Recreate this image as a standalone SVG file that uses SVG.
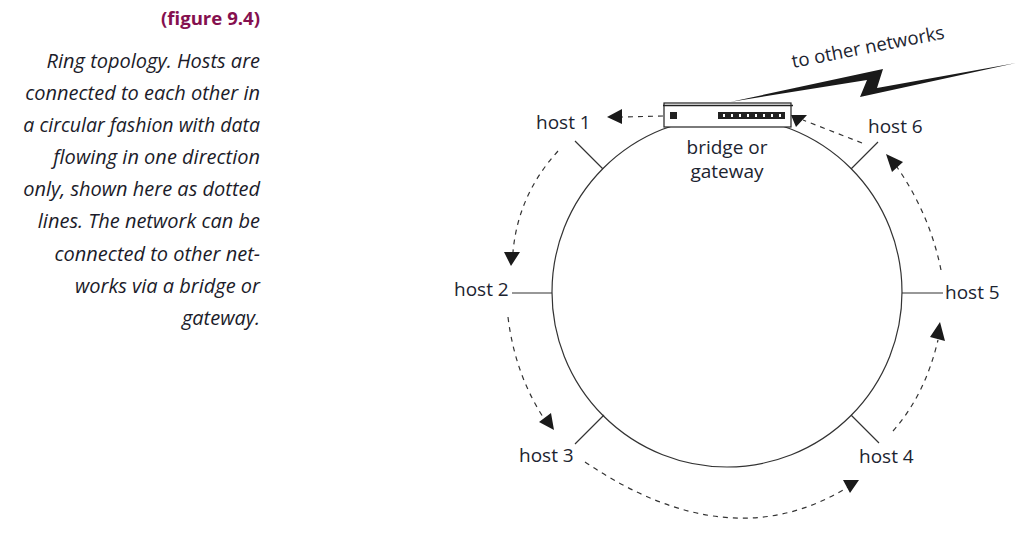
<svg xmlns="http://www.w3.org/2000/svg" width="1026" height="548" viewBox="0 0 1026 548">
<style>
text{font-family:"Open Sans","Noto Sans",sans-serif;}
.cap{font-size:20px;font-style:italic;fill:#1c1c2a;text-anchor:end;}
.lab{font-size:19px;fill:#1c2430;}
.ln{fill:none;stroke:#333;stroke-width:1.2;}
.d{fill:none;stroke:#333;stroke-width:1.2;stroke-dasharray:5 5;}
.h{fill:#1a1a1a;}
</style>
<rect width="1026" height="548" fill="#fff"/>
<g id="caption">
<text x="260" y="25" style="font-size:18.6px;font-weight:700;fill:#85104f;text-anchor:end">(figure 9.4)</text>
<text class="cap" x="260" y="68">Ring topology. Hosts are</text>
<text class="cap" x="260" y="100">connected to each other in</text>
<text class="cap" x="260" y="132" style="font-size:19.5px">a circular fashion with data</text>
<text class="cap" x="260" y="164">flowing in one direction</text>
<text class="cap" x="260" y="196">only, shown here as dotted</text>
<text class="cap" x="260" y="228">lines. The network can be</text>
<text class="cap" x="260" y="261">connected to other net-</text>
<text class="cap" x="260" y="293">works via a bridge or</text>
<text class="cap" x="260" y="325">gateway.</text>
</g>
<g id="connectors">
<circle class="ln" cx="727" cy="292" r="175"/>
<path class="ln" d="M575 141L603 169M512 293H552M604 415L575 444M851 415L879 443M902 293H943M851 169L878 142"/>
<path class="d" d="M663 116L622 117M862 143L803 120M941 270Q930 215 897 167M893 431Q925 395 938 340M585 462Q730 560 848 487M508 317Q515 375 545 420M558 151Q518 195 513 252"/>
<path class="h" d="M607 117L622 109V124ZM791 115H807L796 127ZM886 154L903 162L892 172ZM940 322L945 341L930 337ZM843 480H859L850 493ZM554 430L539 422L551 413ZM511 266L504 252H520Z"/>
<path class="h" d="M730 102L883 69L877 88L1016 63L860 97L867 80Z"/>
</g>
<g id="bridge">
<rect x="664" y="103" width="127" height="24" fill="#fff" stroke="#222" stroke-width="1.2"/>
<path d="M663 105.500H793" stroke="#222" stroke-width="1.5"/>
<rect x="670" y="112" width="7" height="7" fill="#222"/>
<rect x="718" y="112" width="67" height="7" fill="#222"/>
<path d="M723 115.500H781" stroke="#fff" stroke-width="3" stroke-dasharray="2 6"/>
<text class="lab" x="727" y="154" text-anchor="middle">bridge or</text>
<text class="lab" x="727" y="178" text-anchor="middle">gateway</text>
</g>
<g id="host1"><text class="lab" x="536" y="129">host 1</text></g>
<g id="host2"><text class="lab" x="454" y="296">host 2</text></g>
<g id="host3"><text class="lab" x="519" y="462">host 3</text></g>
<g id="host4"><text class="lab" x="859" y="463">host 4</text></g>
<g id="host5"><text class="lab" x="945" y="299">host 5</text></g>
<g id="host6"><text class="lab" x="868" y="133">host 6</text></g>
<g id="uplink"><text class="lab" style="font-size:18.6px" transform="translate(793 68) rotate(-11)">to other networks</text></g>
</svg>
